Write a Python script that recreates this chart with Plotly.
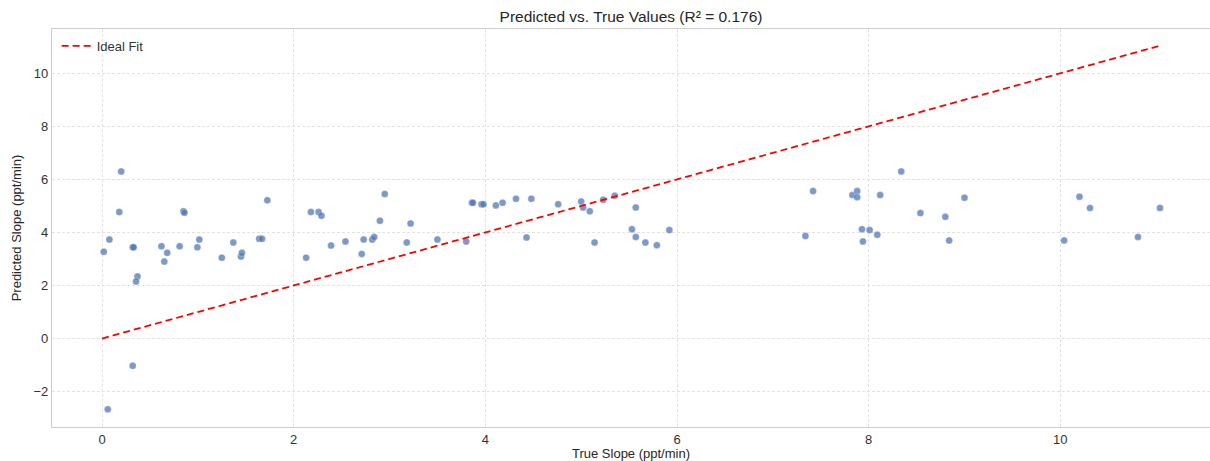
import plotly.graph_objects as go

true_vals = [0.018, 0.077, 0.20, 0.18, 0.32, 0.33, 0.37, 0.355, 0.62, 0.65, 0.68, 0.81, 0.85, 0.86,
             0.995, 1.015, 1.25, 1.37, 1.45, 1.46, 1.64, 1.67, 1.725,
             2.13, 2.18, 2.26, 2.29, 2.39, 2.54, 2.71, 2.73, 2.82, 2.84, 2.90, 2.95, 3.18, 3.22,
             3.50, 3.80, 3.86, 3.87, 3.96, 3.98, 4.11, 4.18, 4.32, 4.43, 4.48,
             4.76, 5.00, 5.02, 5.09, 5.14, 5.23, 5.35, 5.53, 5.57, 5.57, 5.67, 5.79, 5.92,
             7.34, 7.42, 7.83, 7.88, 7.88, 7.93, 7.94, 8.01, 8.09, 8.12, 8.34, 8.54, 8.80, 8.84, 9.00,
             10.04, 10.20, 10.31, 10.81, 11.04,
             0.32, 0.06]
pred_vals = [3.27, 3.73, 6.30, 4.77, 3.44, 3.44, 2.34, 2.15, 3.48, 2.90, 3.23, 3.48, 4.80, 4.74,
             3.44, 3.73, 3.05, 3.62, 3.09, 3.23, 3.76, 3.76, 5.21,
             3.05, 4.77, 4.77, 4.63, 3.51, 3.66, 3.19, 3.73, 3.73, 3.83, 4.44, 5.45, 3.62, 4.34,
             3.73, 3.66, 5.12, 5.12, 5.06, 5.06, 5.02, 5.12, 5.27, 3.81, 5.27,
             5.06, 5.17, 4.94, 4.80, 3.62, 5.23, 5.38, 4.12, 4.94, 3.83, 3.62, 3.52, 4.09,
             3.87, 5.56, 5.41, 5.56, 5.33, 4.12, 3.66, 4.09, 3.91, 5.41, 6.30, 4.73, 4.59, 3.70, 5.31,
             3.70, 5.35, 4.92, 3.83, 4.92,
             -1.03, -2.67]

ideal_x = [0.0, max(true_vals)]
ideal_y = [0.0, max(true_vals)]

x_ticks = [0, 2, 4, 6, 8, 10]
y_ticks = [-2, 0, 2, 4, 6, 8, 10]

font_family = "Liberation Sans, Arial, sans-serif"

fig = go.Figure()
fig.add_trace(go.Scatter(
    x=true_vals, y=pred_vals, mode="markers", showlegend=False,
    marker=dict(size=7, color="rgba(76,114,176,0.72)",
                line=dict(width=0.5, color="rgba(255,255,255,0.6)")),
))
fig.add_trace(go.Scatter(
    x=ideal_x, y=ideal_y, mode="lines", name="Ideal Fit",
    line=dict(color="#ff0000", width=1.8, dash="7px,4px"),
))

fig.update_layout(
    width=1210, height=461,
    margin=dict(l=52, r=0, t=29, b=34),
    paper_bgcolor="white", plot_bgcolor="white",
    font=dict(family=font_family, size=13, color="#333333"),
    title=dict(text="Predicted vs. True Values (R² = 0.176)", x=0.5, xref="paper",
               y=0.963, yref="container", yanchor="middle",
               font=dict(size=15.5, color="#262626")),
    legend=dict(x=0.004, y=0.995, xanchor="left", yanchor="top",
                bgcolor="rgba(0,0,0,0)", font=dict(size=13, color="#333333")),
)
fig.update_xaxes(
    range=[-0.522, 11.562], tickvals=x_ticks, ticktext=[str(v) for v in x_ticks],
    showgrid=True, gridcolor="#e2e2e2", griddash="3px,2px", gridwidth=1,
    zeroline=False, showline=True, linecolor="#cccccc", linewidth=1.2, mirror=True,
    ticks="", tickfont=dict(size=13, color="#333333"),
    title=dict(text="True Slope (ppt/min)", font=dict(size=13, color="#262626"), standoff=3),
)
fig.update_yaxes(
    range=[-3.335, 11.67], tickvals=y_ticks, ticktext=[("−" + str(-v)) if v < 0 else str(v) for v in y_ticks],
    showgrid=True, gridcolor="#e2e2e2", griddash="3px,2px", gridwidth=1,
    zeroline=False, showline=True, linecolor="#cccccc", linewidth=1.2,
    ticks="", tickfont=dict(size=13, color="#333333"),
    title=dict(text="Predicted Slope (ppt/min)", font=dict(size=13, color="#262626"), standoff=8),
)

fig.write_html("out.html")
